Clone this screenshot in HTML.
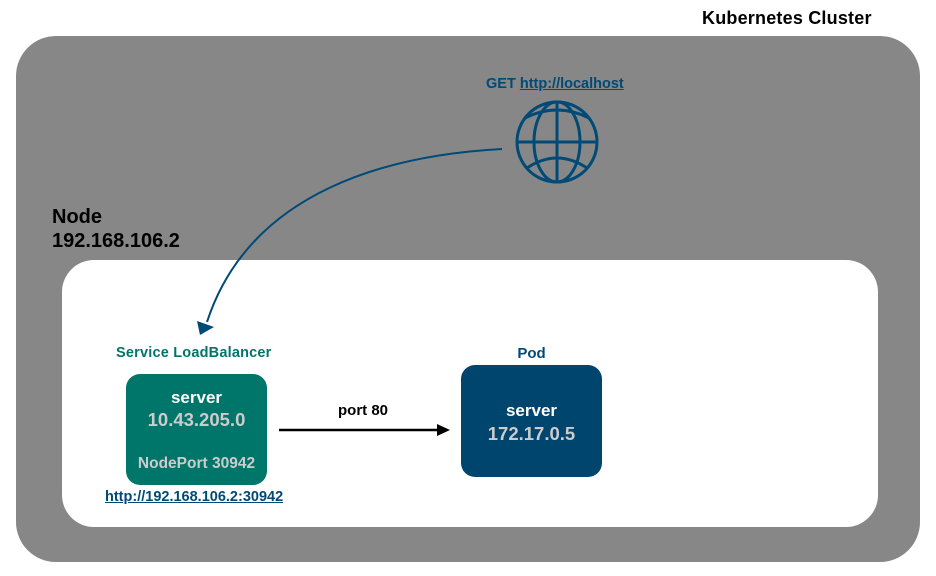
<!DOCTYPE html>
<html><head><style>
body{margin:0;width:936px;height:576px;background:#fff;position:relative;font-family:"Liberation Sans",Arial,sans-serif;font-weight:bold;overflow:hidden}
div,span{position:absolute;white-space:nowrap}
.c{text-align:center}
</style></head><body>
<span style="left:702px;top:8px;font-size:18px;color:#000;letter-spacing:0.2px">Kubernetes Cluster</span>
<div style="left:16px;top:36px;width:904px;height:526px;background:#878787;border-radius:40px"></div>
<div style="left:62px;top:260px;width:816px;height:267px;background:#fff;border-radius:32px"></div>
<span style="left:52px;top:205px;font-size:20px;line-height:24px;color:#000">Node<br>192.168.106.2</span>
<span style="left:486px;top:76px;font-size:14.5px;color:#004a77">GET <u>http://localhost</u></span>
<svg style="position:absolute;left:0;top:0" width="936" height="576">
<g fill="none" stroke="#004a77" stroke-width="3">
<circle cx="557" cy="142" r="40"/>
<ellipse cx="557" cy="142" rx="23" ry="40"/>
<line x1="557" y1="102" x2="557" y2="182"/>
<line x1="517" y1="142" x2="597" y2="142"/>
<path d="M525 118 Q557 102 589 118"/>
<path d="M527 168 Q557 148 587 168"/>
</g>
<path d="M502 149 C390 155 250 190 207 322" fill="none" stroke="#004a77" stroke-width="2"/>
<polygon points="200,335 197,321 214,327" fill="#004a77"/>
<line x1="279" y1="430" x2="440" y2="430" stroke="#000" stroke-width="2.5"/>
<polygon points="450,430 437,424 437,436" fill="#000"/>
</svg>
<span style="left:116px;top:345px;font-size:14.5px;color:#00756a;letter-spacing:0.2px">Service LoadBalancer</span>
<div style="left:126px;top:374px;width:141px;height:111px;background:#00756a;border-radius:14px"></div>
<span class="c" style="left:126px;top:388px;width:141px;font-size:17px;color:#fff">server</span>
<span class="c" style="left:126px;top:409px;width:141px;font-size:18.5px;color:#ccc">10.43.205.0</span>
<span class="c" style="left:126px;top:455px;width:141px;font-size:15.5px;color:#ccc">NodePort 30942</span>
<span style="left:105px;top:489px;font-size:14.5px;color:#004a77"><u>http://192.168.106.2:30942</u></span>
<span style="left:338px;top:402px;font-size:15px;color:#000">port 80</span>
<span class="c" style="left:461px;top:345px;width:141px;font-size:15px;color:#004a77">Pod</span>
<div style="left:461px;top:365px;width:141px;height:112px;background:#00456e;border-radius:14px"></div>
<span class="c" style="left:461px;top:401px;width:141px;font-size:17px;color:#fff">server</span>
<span class="c" style="left:461px;top:423px;width:141px;font-size:18.5px;color:#ccc">172.17.0.5</span>
</body></html>
